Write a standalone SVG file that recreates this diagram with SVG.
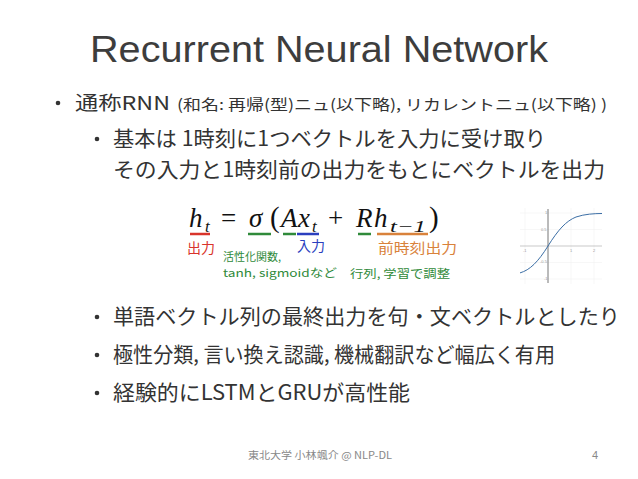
<svg xmlns="http://www.w3.org/2000/svg" width="638" height="479" viewBox="0 0 638 479">
<style>
.t{font-family:"Liberation Sans","Noto Sans CJK JP",sans-serif;fill:#333}
.j{font-family:"Noto Sans CJK JP","Liberation Sans",sans-serif;fill:#333}
.m{font-family:"Liberation Serif","DejaVu Serif",serif;fill:#111}
.mi{font-family:"Liberation Serif","DejaVu Serif",serif;font-style:italic;fill:#111}
.ul{stroke-width:2.5;fill:none}
.tick{font-family:"Liberation Sans",sans-serif;font-size:4px;fill:#999}
</style>
<rect width="638" height="479" fill="#fff"/>
<text class="t" x="90" y="62" font-size="37" style="fill:#3d3d3d" textLength="458" lengthAdjust="spacingAndGlyphs">Recurrent Neural Network</text>

<g id="bullet1">
<circle cx="58" cy="103" r="2.3" fill="#333"/>
<text class="j" x="75" y="110" font-size="19" textLength="95" lengthAdjust="spacingAndGlyphs">通称RNN</text>
<text class="j" x="177" y="110" font-size="15" textLength="430" lengthAdjust="spacingAndGlyphs">(和名: 再帰(型)ニュ(以下略), リカレントニュ(以下略) )</text>
</g>

<g id="bullet2">
<circle cx="97" cy="139" r="2.3" fill="#333"/>
<text class="j" x="113" y="146" font-size="21" textLength="433" lengthAdjust="spacingAndGlyphs">基本は 1時刻に1つベクトルを入力に受け取り</text>
<text class="j" x="113" y="177" font-size="21" textLength="492" lengthAdjust="spacingAndGlyphs">その入力と1時刻前の出力をもとにベクトルを出力</text>
</g>

<g id="equation">
<text class="mi" x="189" y="227" font-size="27">h</text>
<text class="mi" x="205" y="232" font-size="17">t</text>
<text class="m" x="221" y="227" font-size="27">=</text>
<text class="mi" x="249" y="227" font-size="27">σ</text>
<text class="m" x="270" y="227" font-size="29">(</text>
<text class="mi" x="281" y="227" font-size="27">A</text>
<text class="mi" x="298" y="227" font-size="27">x</text>
<text class="mi" x="312" y="232" font-size="17">t</text>
<text class="m" x="328" y="227" font-size="27">+</text>
<text class="mi" x="356" y="227" font-size="27">R</text>
<text class="mi" x="374" y="227" font-size="27">h</text>
<text class="mi" x="390" y="232" font-size="17" textLength="36" lengthAdjust="spacingAndGlyphs">t−1</text>
<text class="m" x="429" y="227" font-size="29">)</text>
<line class="ul" x1="190" y1="234" x2="210" y2="234" stroke="#d9342b"/>
<line class="ul" x1="248" y1="234" x2="271" y2="234" stroke="#2f8a3a"/>
<line class="ul" x1="283" y1="234" x2="296" y2="234" stroke="#2f8a3a"/>
<line class="ul" x1="297" y1="234" x2="319" y2="234" stroke="#2b3fbf"/>
<line class="ul" x1="358" y1="234" x2="371" y2="234" stroke="#2f8a3a"/>
<line class="ul" x1="377" y1="234" x2="428" y2="234" stroke="#d9823b"/>
<text class="j" x="187" y="253" font-size="14" style="fill:#d9342b">出力</text>
<text class="j" x="223" y="260.5" font-size="11" style="fill:#2f8a3a">活性化関数,</text>
<text class="j" x="223" y="277" font-size="11" style="fill:#2f8a3a" textLength="114" lengthAdjust="spacingAndGlyphs">tanh, sigmoidなど</text>
<text class="j" x="297" y="251" font-size="14" style="fill:#2b3fbf">入力</text>
<text class="j" x="378" y="253" font-size="14" style="fill:#d9823b" textLength="79" lengthAdjust="spacingAndGlyphs">前時刻出力</text>
<text class="j" x="350" y="278" font-size="11.5" style="fill:#2f8a3a" textLength="100" lengthAdjust="spacingAndGlyphs">行列, 学習で調整</text>
</g>

<g id="plot">
<g stroke="#eee" stroke-width="0.5">
<line x1="520" y1="213" x2="602" y2="213"/>
<line x1="520" y1="229.5" x2="602" y2="229.5"/>
<line x1="520" y1="262.5" x2="602" y2="262.5"/>
<line x1="520" y1="279" x2="602" y2="279"/>
<line x1="525" y1="208" x2="525" y2="284"/>
<line x1="571" y1="208" x2="571" y2="284"/>
<line x1="594" y1="208" x2="594" y2="284"/>
</g>
<line x1="520" y1="246" x2="602" y2="246" stroke="#bbb" stroke-width="0.8"/>
<line x1="548" y1="209" x2="548" y2="283" stroke="#777" stroke-width="1"/>
<path d="M520,272.9 C530,270 538,262 548,246 C558,230 566,221 576,217 C585,214 594,213.6 602,213.5" fill="none" stroke="#3b6ea5" stroke-width="1"/>
<text class="tick" x="545" y="214">1</text>
<text class="tick" x="541" y="231">0.5</text>
<text class="tick" x="523" y="252">-1</text>
<text class="tick" x="570" y="252">1</text>
<text class="tick" x="593" y="252">2</text>
<text class="tick" x="540" y="263">-0.5</text>
<text class="tick" x="544" y="280">-1</text>
</g>

<g id="bullets3">
<circle cx="97" cy="317" r="2.3" fill="#333"/>
<text class="j" x="113" y="324" font-size="21" textLength="507" lengthAdjust="spacingAndGlyphs">単語ベクトル列の最終出力を句・文ベクトルとしたり</text>
<circle cx="97" cy="355" r="2.3" fill="#333"/>
<text class="j" x="113" y="362" font-size="21" textLength="442" lengthAdjust="spacingAndGlyphs">極性分類, 言い換え認識, 機械翻訳など幅広く有用</text>
<circle cx="97" cy="393" r="2.3" fill="#333"/>
<text class="j" x="113" y="400" font-size="21" textLength="297" lengthAdjust="spacingAndGlyphs">経験的にLSTMとGRUが高性能</text>
</g>

<g id="footer">
<text class="j" x="248" y="459" font-size="10" style="fill:#888" textLength="144" lengthAdjust="spacingAndGlyphs">東北大学 小林颯介 @ NLP-DL</text>
<text class="t" x="592" y="459" font-size="11" style="fill:#888">4</text>
</g>
</svg>
